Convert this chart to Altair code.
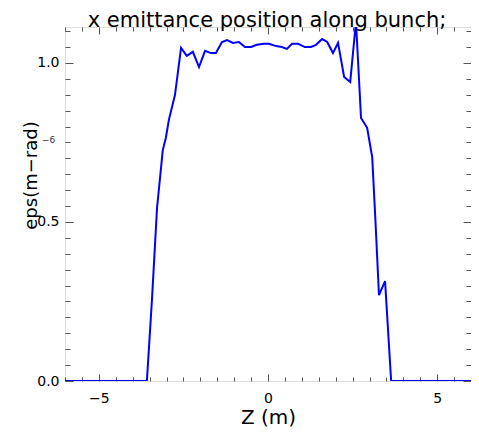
import altair as alt
import pandas as pd

z = [-6.0, -3.58, -3.43, -3.28, -3.11, -3.02, -2.93, -2.75, -2.57, -2.40, -2.22, -2.04,
     -1.86, -1.69, -1.54, -1.36, -1.21, -1.04, -0.86, -0.68, -0.50, -0.33, -0.12, 0.03,
     0.24, 0.41, 0.56, 0.71, 0.89, 1.09, 1.27, 1.42, 1.60, 1.75, 1.92, 2.07, 2.25, 2.43,
     2.60, 2.75, 2.93, 3.08, 3.17, 3.28, 3.46, 3.64, 6.0]
eps = [0, 0, 0.255, 0.544, 0.726, 0.764, 0.821, 0.899, 1.047, 1.022, 1.035, 0.987,
       1.038, 1.031, 1.031, 1.066, 1.072, 1.063, 1.066, 1.050, 1.050, 1.057, 1.060, 1.060,
       1.053, 1.050, 1.044, 1.060, 1.060, 1.050, 1.050, 1.057, 1.075, 1.066, 1.031, 1.063,
       0.956, 0.940, 1.13, 0.827, 0.796, 0.704, 0.516, 0.270, 0.314, 0, 0]

x_major = [-5, 0, 5]
x_minor = [-6, -5.5, -4.5, -4, -3.5, -3, -2.5, -2, -1.5, -1, -0.5, 0.5, 1, 1.5, 2, 2.5,
           3, 3.5, 4, 4.5, 5.5, 6]
y_major = [0.0, 0.5, 1.0]
y_minor = [0.05, 0.1, 0.15, 0.2, 0.25, 0.3, 0.35, 0.4, 0.45, 0.55, 0.6, 0.65, 0.7, 0.75,
           0.8, 0.85, 0.9, 0.95, 1.05, 1.1]

x_domain = [-6, 6]
y_domain = [0, 1.113]

title_text = ["x emittance position along bunch;"]
exp_text = ["−6"]

df = pd.DataFrame({"z": z, "eps": eps})
FONT = "DejaVu Sans"
TICK = "#555555"
W, H = 406, 354

xs = alt.Scale(domain=x_domain, nice=False, zero=False)
ys = alt.Scale(domain=y_domain, nice=False, zero=False)


def tick_axis(orient, values, size, labels=False, **kw):
    return alt.Axis(orient=orient, values=values, tickSize=size, offset=-size,
                    domain=False, grid=False, labels=labels, tickColor=TICK,
                    tickWidth=1, **kw)


main = alt.Chart(df).mark_line(color="#0000FF", strokeWidth=2, clip=True).encode(
    x=alt.X("z:Q", scale=xs,
            axis=tick_axis("bottom", x_major, 7, labels=True, format="d",
                           labelFont=FONT, labelFontSize=14, labelColor="black",
                           labelPadding=10, title="Z (m)", titleFont=FONT,
                           titleFontSize=20, titleFontWeight="normal",
                           titleColor="black", titleX=W / 2, titleY=49,
                           titleBaseline="alphabetic")),
    y=alt.Y("eps:Q", scale=ys,
            axis=tick_axis("left", y_major, 8, labels=True, format=".1f",
                           labelFont=FONT, labelFontSize=14, labelColor="black",
                           labelPadding=6, title="eps(m−rad)", titleFont=FONT,
                           titleFontSize=18, titleFontWeight="normal",
                           titleColor="black", titleX=-42, titleY=148,
                           titleAngle=270, titleAlign="center",
                           titleBaseline="middle")),
)

minor_bl = alt.Chart(df).mark_line(opacity=0).encode(
    x=alt.X("z:Q", scale=xs, axis=tick_axis("bottom", x_minor, 4, title=None)),
    y=alt.Y("eps:Q", scale=ys, axis=tick_axis("left", y_minor, 5, title=None)),
)

major_tr = alt.Chart(df).mark_line(opacity=0).encode(
    x=alt.X("z:Q", scale=xs, axis=tick_axis("top", x_major, 7, title=None)),
    y=alt.Y("eps:Q", scale=ys, axis=tick_axis("right", y_major, 8, title=None)),
)

minor_tr = alt.Chart(df).mark_line(opacity=0).encode(
    x=alt.X("z:Q", scale=xs, axis=tick_axis("top", x_minor, 4, title=None)),
    y=alt.Y("eps:Q", scale=ys, axis=tick_axis("right", y_minor, 5, title=None)),
)

exponent = alt.Chart(pd.DataFrame({"t": exp_text})).mark_text(
    font=FONT, fontSize=9, align="left", baseline="middle", color="#333333"
).encode(x=alt.value(-23), y=alt.value(113), text="t:N")

title = alt.Chart(pd.DataFrame({"t": title_text})).mark_text(
    font=FONT, fontSize=21, align="center", baseline="alphabetic", color="black"
).encode(x=alt.value(202), y=alt.value(0), text="t:N")

chart = alt.layer(main, minor_bl, major_tr, minor_tr, exponent, title).resolve_scale(
    x="independent", y="independent"
).properties(
    width=W, height=H,
    autosize=alt.AutoSizeParams(type="none"),
    padding={"left": 57, "top": 19, "right": 0, "bottom": 47},
).configure_view(stroke=TICK, strokeWidth=1).configure(background="white")

chart.save("out.html", embed_options={"renderer": "svg", "actions": False})
